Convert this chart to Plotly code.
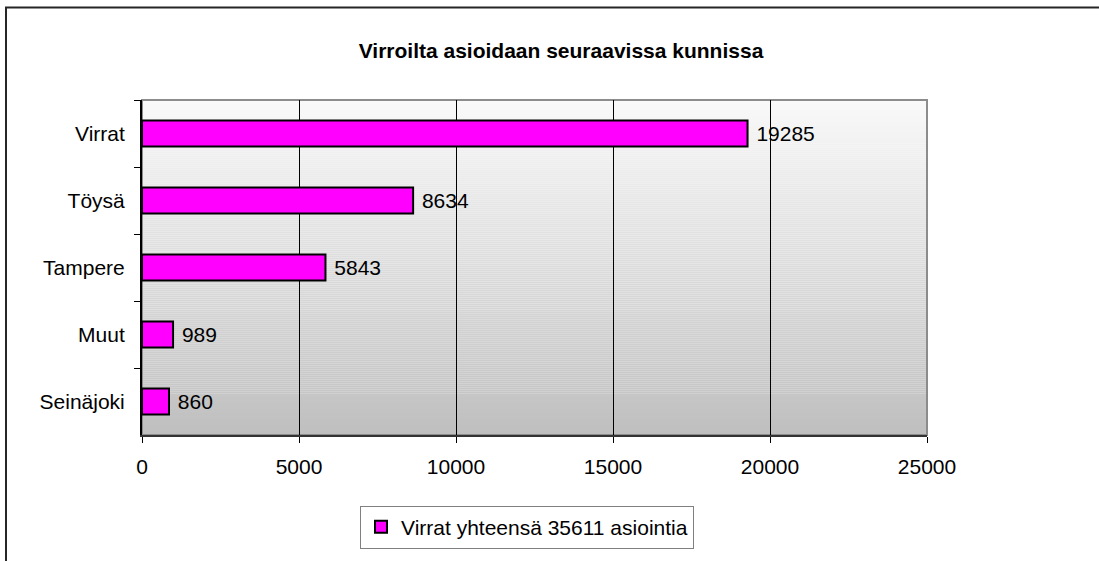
import plotly.graph_objects as go

categories = ["Virrat", "Töysä", "Tampere", "Muut", "Seinäjoki"]
values = [19285, 8634, 5843, 989, 860]
series_name = "Virrat yhteensä 35611 asiointia"
title_text = "Virroilta asioidaan seuraavissa kunnissa"
x_ticks = [0, 5000, 10000, 15000, 20000, 25000]

FONT = "Arial, Liberation Sans, sans-serif"
FS = 21
W, H = 1099, 561
L, R, T, B = 142, 172, 100, 126
pw, ph = W - L - R, H - T - B

def px_to_paper_x(px):
    return (px - L) / pw

def px_to_paper_y(py):
    return (H - B - py) / ph

fig = go.Figure()
fig.add_trace(go.Bar(
    y=categories, x=values, orientation="h",
    name=series_name,
    marker=dict(color="#FF00FF", line=dict(color="black", width=2)),
    text=[" " + str(v) for v in values], texttemplate="%{text}", textposition="outside",
    textfont=dict(family=FONT, size=FS, color="black"),
    cliponaxis=False, showlegend=True, hoverinfo="skip",
))

shapes = []
# gradient background
n = 168
top = (249, 249, 249)
bot = (191, 191, 191)
for i in range(n):
    f = i / (n - 1)
    c = tuple(round(top[k] + (bot[k] - top[k]) * f) for k in range(3))
    shapes.append(dict(type="rect", xref="paper", yref="paper",
                       x0=0, x1=1, y0=1 - (i + 1) / n, y1=1 - i / n,
                       fillcolor="rgb(%d,%d,%d)" % c, line=dict(width=0),
                       layer="below"))
# plot area border (gray)
shapes.append(dict(type="rect", xref="paper", yref="paper", x0=0, x1=1, y0=0, y1=1,
                   line=dict(color="#8c8c8c", width=2), fillcolor="rgba(0,0,0,0)",
                   layer="below"))
# outer chart border
shapes.append(dict(type="rect", xref="paper", yref="paper",
                   x0=px_to_paper_x(6), x1=px_to_paper_x(1110),
                   y0=px_to_paper_y(580), y1=px_to_paper_y(7.5),
                   line=dict(color="#262626", width=2), fillcolor="rgba(0,0,0,0)"))

fig.update_layout(
    width=W, height=H,
    margin=dict(l=L, r=R, t=T, b=B),
    paper_bgcolor="white", plot_bgcolor="rgba(0,0,0,0)",
    font=dict(family=FONT, size=FS, color="black"),
    title=dict(text="<b>" + title_text + "</b>", x=px_to_paper_x(561), xref="paper",
               xanchor="center", y=1 - 51 / H, yanchor="middle",
               font=dict(family=FONT, size=21, color="black")),
    bargap=0.61,
    shapes=shapes,
    hovermode=False,
    legend=dict(x=px_to_paper_x(527), y=px_to_paper_y(527), xanchor="center", yanchor="middle",
                orientation="h", bordercolor="#808080", borderwidth=1, bgcolor="white",
                font=dict(family=FONT, size=FS, color="black"),
                itemwidth=30),
    xaxis=dict(range=[0, 25000], tickvals=x_ticks, ticktext=[str(t) for t in x_ticks],
               showgrid=True, gridcolor="black", gridwidth=1, zeroline=False,
               showline=True, linecolor="#333333", linewidth=2,
               ticks="outside", ticklen=6, tickcolor="black", ticklabelstandoff=6,
               tickfont=dict(family=FONT, size=FS, color="black"), fixedrange=True),
    yaxis=dict(categoryorder="array", categoryarray=categories, autorange="reversed",
               showgrid=False, zeroline=False, showline=True, linecolor="black", linewidth=2,
               ticks="outside", ticklen=6, tickcolor="black", tickson="boundaries",
               ticklabelstandoff=11,
               tickfont=dict(family=FONT, size=FS, color="black"), fixedrange=True),
)

fig.write_html("out.html", config={"displayModeBar": False},
               post_script="document.body.style.margin='0';")
